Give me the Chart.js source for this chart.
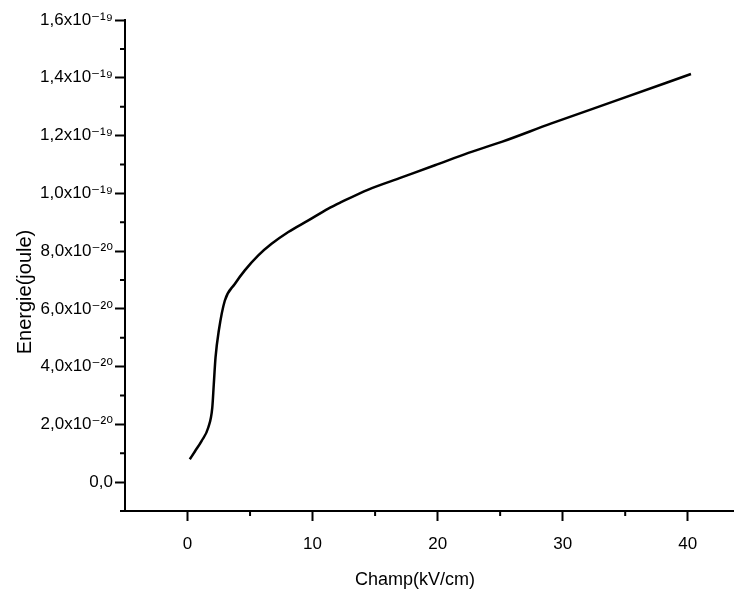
<!DOCTYPE html>
<html>
<head>
<meta charset="utf-8">
<script src="https://cdn.jsdelivr.net/npm/chart.js@4.4.0/dist/chart.umd.min.js"></script>
<style>
html,body{margin:0;padding:0;background:#fff;}
canvas{display:block;}
</style>
</head>
<body>
<canvas id="c" width="734" height="599"></canvas>
<script>
// Electric field (kV/cm)
const field = [0.18, 0.6, 1.12, 1.66, 1.98, 2.10, 2.24, 2.50, 2.98, 3.78, 4.58, 5.66, 6.72, 8.06, 9.66, 11.26, 12.32, 14.46, 17.12, 19.78, 22.46, 25.12, 29.1, 34.2, 40.26];
// Energy (joule)
const energy = [0.79e-20, 1.07e-20, 1.42e-20, 1.89e-20, 2.58e-20, 3.39e-20, 4.32e-20, 5.24e-20, 6.28e-20, 6.86e-20, 7.33e-20, 7.85e-20, 8.25e-20, 8.66e-20, 9.06e-20, 9.47e-20, 9.70e-20, 10.13e-20, 10.55e-20, 10.97e-20, 11.40e-20, 11.78e-20, 12.42e-20, 13.2e-20, 14.13e-20];

const xTicks = [0, 10, 20, 30, 40];
const xMinorTicks = [5, 15, 25, 35];
const yTicks = [0, 2e-20, 4e-20, 6e-20, 8e-20, 1.0e-19, 1.2e-19, 1.4e-19, 1.6e-19];
const yTickLabels = ['0,0', '2,0x10\u207B\u00B2\u2070', '4,0x10\u207B\u00B2\u2070', '6,0x10\u207B\u00B2\u2070', '8,0x10\u207B\u00B2\u2070', '1,0x10\u207B\u00B9\u2079', '1,2x10\u207B\u00B9\u2079', '1,4x10\u207B\u00B9\u2079', '1,6x10\u207B\u00B9\u2079'];
const yMinorTicks = [-1e-20, 1e-20, 3e-20, 5e-20, 7e-20, 9e-20, 1.1e-19, 1.3e-19, 1.5e-19];
const xTitle = 'Champ(kV/cm)';
const yTitle = 'Energie(joule)';

const FONT = '"Liberation Sans", Arial, "DejaVu Sans", sans-serif';

const extras = {
  id: 'extras',
  afterDraw(chart) {
    const ctx = chart.ctx;
    const xs = chart.scales.x, ys = chart.scales.y;
    const area = chart.chartArea;
    ctx.save();
    ctx.strokeStyle = '#000';
    ctx.lineWidth = 2;
    ctx.beginPath();
    xMinorTicks.forEach(v => {
      const px = xs.getPixelForValue(v);
      ctx.moveTo(px, area.bottom);
      ctx.lineTo(px, area.bottom + 5);
    });
    yMinorTicks.forEach(v => {
      const py = ys.getPixelForValue(v);
      ctx.moveTo(area.left, py);
      ctx.lineTo(area.left - 5, py);
    });
    ctx.stroke();
    ctx.fillStyle = '#000';
    ctx.textAlign = 'center';
    ctx.textBaseline = 'middle';
    ctx.font = '18px ' + FONT;
    ctx.fillText(xTitle, 415, 580);
    ctx.font = '20px ' + FONT;
    ctx.translate(25, 292);
    ctx.rotate(-Math.PI / 2);
    ctx.fillText(yTitle, 0, 0);
    ctx.restore();
  }
};

new Chart(document.getElementById('c'), {
  type: 'line',
  data: {
    datasets: [{
      data: field.map((f, i) => ({x: f, y: energy[i]})),
      borderColor: '#000',
      borderWidth: 2.5,
      pointRadius: 0,
      fill: false,
      cubicInterpolationMode: 'monotone'
    }]
  },
  options: {
    responsive: false,
    devicePixelRatio: 1,
    animation: false,
    layout: {padding: {top: 20, right: 0, left: 0, bottom: 0}},
    plugins: {legend: {display: false}, tooltip: {enabled: false}},
    scales: {
      x: {
        type: 'linear',
        min: -5,
        max: 43.7,
        afterFit(s) { s.height = 88; },
        afterBuildTicks(s) { s.ticks = xTicks.map(v => ({value: v})); },
        border: {display: true, color: '#000', width: 2},
        grid: {display: true, drawOnChartArea: false, drawTicks: true, tickLength: 10, tickColor: '#000', tickWidth: 2},
        ticks: {color: '#000', padding: 13, font: {size: 17, family: FONT}, maxRotation: 0, callback: v => String(v)}
      },
      y: {
        type: 'linear',
        min: -1e-20,
        max: 1.6e-19,
        afterFit(s) { s.width = 125; },
        afterBuildTicks(s) { s.ticks = yTicks.map(v => ({value: v})); },
        border: {display: true, color: '#000', width: 2},
        grid: {display: true, drawOnChartArea: false, drawTicks: true, tickLength: 10, tickColor: '#000', tickWidth: 2},
        ticks: {color: '#000', padding: 2, font: {size: 17, family: FONT}, callback: (v, i) => yTickLabels[i]}
      }
    }
  },
  plugins: [extras]
});
</script>
</body>
</html>
